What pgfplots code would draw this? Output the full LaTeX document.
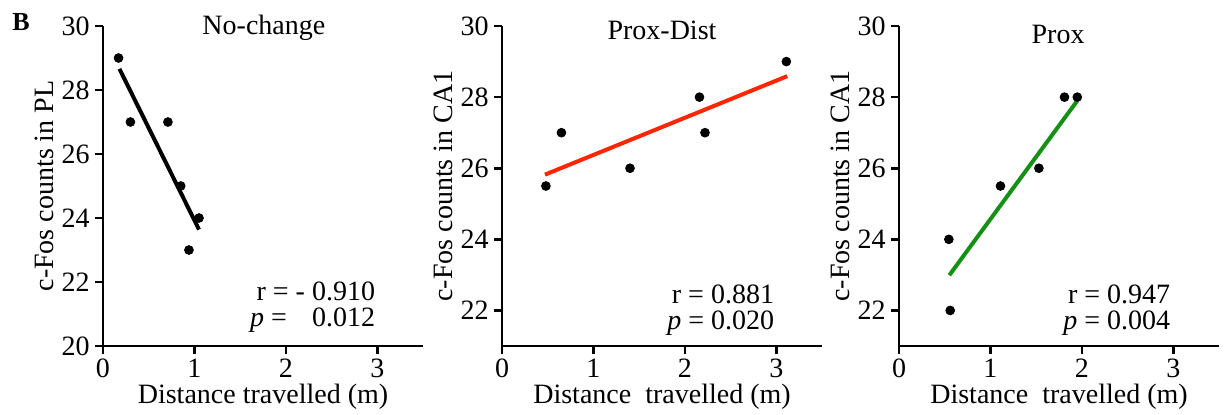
\documentclass[border=0pt]{standalone}
\usepackage{fontspec}
\setmainfont{Liberation Serif}
\usepackage{pgfplots}
\pgfplotsset{compat=1.18}

\definecolor{fitred}{RGB}{252,38,0}
\definecolor{fitgreen}{RGB}{20,145,20}

\pgfplotsset{
  panel/.style={
    scale only axis, width=160pt, height=160pt,
    anchor=south west,
    axis x line*=bottom, axis y line*=left,
    xmin=0, xmax=3.5, xtick={0,1,2,3},
    tick align=outside, major tick length=4pt,
    axis line style={line width=1.3pt},
    every tick/.style={black, line width=1.3pt},
    tick label style={font=\fontsize{14}{16}\selectfont, inner sep=0pt},
    xticklabel style={anchor=base, yshift=-11.5pt},
    yticklabel style={anchor=east, xshift=-2.5pt},
    /pgf/number format/assume math mode=true,
    label style={font=\fontsize{14}{16}\selectfont, inner sep=0pt},
    xlabel style={at={(axis description cs:0.5,-0.18)}, anchor=base},
    ylabel style={at={(axis description cs:-0.155,0.5)}, anchor=base},
    clip=false,
  },
  dots/.style={only marks, mark=*, mark size=2.2pt, black},
  fit/.style={no marks, line width=2pt},
}
\tikzset{
  note/.style={font=\fontsize{14}{16}\selectfont, inner sep=0pt},
  stats/.style={font=\fontsize{14}{13}\selectfont, inner sep=0pt, align=right, anchor=south east},
}

\begin{document}
\begin{tikzpicture}
  % No-change
  \begin{axis}[panel, at={(0pt,0pt)},
      ymin=20, ymax=30, ytick={20,22,...,30},
      xlabel={Distance travelled (m)},
      ylabel={c-Fos counts in PL}]
    \addplot[dots] coordinates {(0.17,29) (0.30,27) (0.71,27) (0.85,25) (0.94,23) (1.05,24)};
    \addplot[fit, black] coordinates {(0.18,28.66) (1.05,23.64)};
    \node[note, anchor=base] at (axis cs:1.76,29.72) {No-change};
    \node[stats] at (axis cs:2.98,20.41) {r = - 0.910\\\textit{p} =\hspace{0.9em}0.012};
  \end{axis}
  % Prox-Dist
  \begin{axis}[panel, at={(199.5pt,0pt)},
      ymin=21, ymax=30, ytick={22,24,...,30},
      xlabel={Distance~~travelled (m)},
      ylabel={c-Fos counts in CA1}]
    \addplot[dots] coordinates {(0.48,25.5) (0.65,27) (1.40,26) (2.16,28) (2.22,27) (3.11,29)};
    \addplot[fit, fitred] coordinates {(0.47,25.82) (3.12,28.59)};
    \node[note, anchor=base] at (axis cs:1.75,29.61) {Prox-Dist};
    \node[stats] at (axis cs:2.98,21.28) {r = 0.881\\\textit{p} = 0.020};
  \end{axis}
  % Prox
  \begin{axis}[panel, at={(398pt,0pt)},
      ymin=21, ymax=30, ytick={22,24,...,30},
      xlabel={Distance~~travelled (m)},
      ylabel={c-Fos counts in CA1}]
    \addplot[dots] coordinates {(0.545,24) (0.56,22) (1.11,25.5) (1.53,26) (1.81,28) (1.95,28)};
    \addplot[fit, fitgreen] coordinates {(0.55,22.99) (1.95,27.9)};
    \node[note, anchor=base] at (axis cs:1.74,29.52) {Prox};
    \node[stats] at (axis cs:2.97,21.28) {r = 0.947\\\textit{p} = 0.004};
  \end{axis}
  \node[font=\fontsize{13}{15}\selectfont\bfseries, anchor=base west, inner sep=0pt] at (-45.5pt,158pt) {B};
  \pgfresetboundingbox
  \path (-51.5pt,-34pt) rectangle (560.5pt,173pt);
\end{tikzpicture}
\end{document}
